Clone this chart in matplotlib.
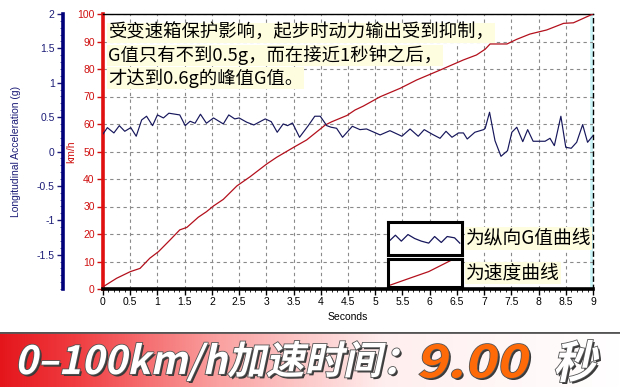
import numpy as np
import matplotlib
matplotlib.use("Agg")
import matplotlib.pyplot as plt
from matplotlib.textpath import TextPath
from matplotlib.patches import PathPatch
from matplotlib.font_manager import FontProperties
from matplotlib.transforms import Affine2D
import matplotlib.patheffects as pe

# speed curve (km/h vs seconds)
speed_t = [0, 0.25, 0.5, 0.68, 0.86, 1.02, 1.23, 1.41, 1.54, 1.75, 1.90, 2.03, 2.21, 2.46,
           2.70, 3.01, 3.19, 3.50, 3.74, 4.08, 4.20, 4.48, 4.63, 4.78, 5.09, 5.46, 5.76,
           6.19, 6.62, 6.86, 7.02, 7.11, 7.42, 7.60, 7.84, 8.15, 8.46, 8.64, 8.82, 9.0]
speed_v = [0.8, 3.9, 6.3, 7.5, 11.2, 13.6, 17.8, 21.5, 22.4, 26.1, 28.1, 30.2, 32.6, 37.5,
           40.8, 45.5, 47.9, 51.5, 54.2, 59.6, 60.8, 63.1, 65.1, 66.5, 69.9, 73.0, 76.0,
           79.6, 83.3, 85.1, 87.2, 89.1, 89.1, 90.8, 92.7, 94.2, 96.6, 96.8, 98.4, 100]

# longitudinal acceleration (g vs seconds)
g_t = [0.0, 0.08, 0.20, 0.30, 0.40, 0.51, 0.61, 0.71, 0.80, 0.91, 1.00, 1.11, 1.21, 1.41,
       1.51, 1.60, 1.69, 1.79, 1.90, 2.03, 2.21, 2.31, 2.42, 2.50, 2.64, 2.77, 2.98, 3.09,
       3.20, 3.31, 3.39, 3.48, 3.61, 3.77, 3.89, 3.99, 4.11, 4.19, 4.29, 4.40, 4.58, 4.72,
       4.84, 5.09, 5.27, 5.49, 5.64, 5.79, 5.90, 6.05, 6.19, 6.30, 6.41, 6.53, 6.62, 6.69,
       6.83, 6.99, 7.02, 7.10, 7.20, 7.31, 7.43, 7.51, 7.60, 7.71, 7.80, 7.90, 8.12, 8.21,
       8.29, 8.41, 8.50, 8.60, 8.70, 8.81, 8.90, 9.00]
g_val = [0.255, 0.347, 0.270, 0.376, 0.294, 0.347, 0.222, 0.459, 0.513, 0.376, 0.532, 0.488,
         0.557, 0.532, 0.376, 0.440, 0.411, 0.542, 0.411, 0.488, 0.401, 0.532, 0.474, 0.488,
         0.426, 0.386, 0.474, 0.434, 0.280, 0.401, 0.376, 0.415, 0.207, 0.376, 0.513, 0.513,
         0.376, 0.353, 0.338, 0.207, 0.367, 0.318, 0.328, 0.241, 0.303, 0.222, 0.328, 0.222,
         0.318, 0.250, 0.192, 0.294, 0.207, 0.270, 0.270, 0.182, 0.280, 0.318, 0.338, 0.571,
         0.157, -0.070, 0.012, 0.280, 0.353, 0.143, 0.318, 0.149, 0.149, 0.192, 0.085, 0.513,
         0.061, 0.047, 0.134, 0.391, 0.134, 0.230]

x_ticks = [0, 0.5, 1, 1.5, 2, 2.5, 3, 3.5, 4, 4.5, 5, 5.5, 6, 6.5, 7, 7.5, 8, 8.5, 9]
x_tick_labels = ["0", "0.5", "1", "1.5", "2", "2.5", "3", "3.5", "4", "4.5", "5", "5.5",
                 "6", "6.5", "7", "7.5", "8", "8.5", "9"]
kmh_ticks = [0, 10, 20, 30, 40, 50, 60, 70, 80, 90, 100]
g_ticks = [-1.5, -1, -0.5, 0, 0.5, 1, 1.5, 2]
g_tick_labels = ["-1.5", "-1", "-0.5", "0", "0.5", "1", "1.5", "2"]

# little samples shown inside the legend boxes
leg_g_x = [0.03, 0.10, 0.18, 0.27, 0.36, 0.45, 0.55, 0.63, 0.72, 0.80, 0.90, 0.97]
leg_g_y = [0.45, 0.60, 0.42, 0.62, 0.50, 0.42, 0.36, 0.56, 0.38, 0.56, 0.52, 0.36]
leg_v_x = [0.0, 0.30, 0.55, 0.85, 1.0]
leg_v_y = [0.04, 0.32, 0.55, 0.95, 1.0]

note_lines = ["受变速箱保护影响，起步时动力输出受到抑制，",
              "G值只有不到0.5g，而在接近1秒钟之后，",
              "才达到0.6g的峰值G值。"]
legend_labels = ["为纵向G值曲线", "为速度曲线"]
banner_parts = ["0–100km/h加速时间：", "9.00", "秒"]

W, H = 620, 387
cjk = ["Noto Sans CJK SC", "DejaVu Sans"]
plt.rcParams["font.family"] = ["Liberation Sans", "DejaVu Sans"]

fig = plt.figure(figsize=(6.2, 3.87), dpi=100)
ax = fig.add_axes([103 / W, 1 - 289 / H, 490 / W, 275 / H])
ax.set_xlim(0, 9)
ax.set_ylim(0, 100)
ax.axvline(9, color="#c8f4f8", lw=4, zorder=0.5)
ax.plot(speed_t, speed_v, color="#b3101c", lw=0.9, zorder=3)
ax.set_xticks(x_ticks)
ax.set_xticklabels(x_tick_labels)
ax.set_xticks(np.arange(0, 9.01, 0.1), minor=True)
ax.set_yticks(kmh_ticks)
ax.grid(True, which="major", ls=(0, (3, 3)), color="#8a8a8a", lw=0.8)
ax.tick_params(axis="x", which="major", length=4, width=1, labelsize=7.5, pad=2)
ax.tick_params(axis="x", which="minor", length=2, width=0.6)
ax.tick_params(axis="y", colors="#d01010", length=4, width=1, labelsize=7.5, pad=2)
ax.spines["left"].set_color("#e01010")
ax.spines["left"].set_linewidth(2.6)
ax.spines["bottom"].set_linewidth(2.6)
ax.spines["top"].set_linewidth(1)
ax.spines["right"].set_linestyle((0, (3, 3)))
ax.spines["right"].set_linewidth(1)
ax.set_xlabel("Seconds", fontsize=7.5, labelpad=3)
ax.set_ylabel("km/h", fontsize=7.5, color="#d01010", labelpad=1)

ax2 = ax.twinx()
ax2.set_ylim(-2, 2)
ax2.plot(g_t, g_val, color="#16165c", lw=0.85, zorder=3)
ax2.yaxis.set_ticks_position("left")
ax2.yaxis.set_label_position("left")
for s in ["right", "top", "bottom"]:
    ax2.spines[s].set_visible(False)
ax2.spines["left"].set_visible(True)
ax2.spines["left"].set_position(("axes", -40 / 490))
ax2.spines["left"].set_color("#00007a")
ax2.spines["left"].set_linewidth(2.6)
ax2.set_yticks(g_ticks)
ax2.set_yticklabels(g_tick_labels)
ax2.set_yticks(np.arange(-2, 2.01, 0.1), minor=True)
ax2.tick_params(axis="y", which="major", colors="#1c1c78", length=4, width=1,
                labelsize=7.5, pad=2)
ax2.tick_params(axis="y", which="minor", colors="#1c1c78", length=2, width=0.5)
ax2.set_ylabel("Longitudinal Acceleration (g)", fontsize=7.5, color="#1c1c78", labelpad=11)

# note text
for i, line in enumerate(note_lines):
    fig.text(108 / W, 1 - (33 + i * 22.5) / H, line, fontsize=13.2, family=cjk,
             va="center", ha="left", color="black",
             bbox=dict(facecolor="#fffde0", edgecolor="none", pad=0.6))

# legend boxes
box_px = [(388, 222, 462, 255), (388, 259, 462, 287)]
leg_data = [(leg_g_x, leg_g_y, "#16165c"), (leg_v_x, leg_v_y, "#b3101c")]
for (x0, y0, x1, y1), (lx, ly, c), lab in zip(box_px, leg_data, legend_labels):
    lax = fig.add_axes([x0 / W, 1 - y1 / H, (x1 - x0) / W, (y1 - y0) / H])
    lax.set_xlim(0, 1)
    lax.set_ylim(0, 1)
    lax.plot(lx, ly, color=c, lw=0.9)
    lax.set_xticks([])
    lax.set_yticks([])
    for s in lax.spines.values():
        s.set_linewidth(2.2)
    fig.text(466 / W, 1 - (y0 + y1) / 2 / H, lab, fontsize=13.5, family=cjk,
             va="center", ha="left",
             bbox=dict(facecolor="#fffde0", edgecolor="none", pad=0.6))

# bottom banner with red -> white gradient
bax = fig.add_axes([0, 0, 1, 55 / H])
stops = [0, 0.12, 0.35, 0.62, 1.0]
reds = [228, 240, 250, 255, 255]
greens = [22, 60, 160, 238, 255]
blues = [28, 64, 160, 238, 255]
xs = np.linspace(0, 1, 400)
grad = np.stack([np.interp(xs, stops, reds), np.interp(xs, stops, greens),
                 np.interp(xs, stops, blues)], axis=-1)[None, :, :] / 255
bax.imshow(grad, aspect="auto", extent=[0, 1, 0, 1])
bax.axhline(1, color="#555555", lw=2)
bax.set_axis_off()

fp = FontProperties(family="Noto Sans CJK SC", weight="bold")
k = np.tan(np.radians(12))


def banner_text(s, x0, x1, ytop, ybot, color):
    tp = TextPath((0, 0), s, size=40, prop=fp)
    ext = tp.get_extents()
    hh = ybot - ytop
    sy = hh / ext.height
    sx = ((x1 - x0) - k * hh) / ext.width
    for dx, dy, c, z in [(2, -2, "#3a3a3a", 5), (0, 0, color, 6)]:
        tr = (Affine2D().translate(-ext.x0, -ext.y0).scale(sx, sy)
              .skew_deg(12, 0).translate(x0 + dx, H - ybot + dy))
        p = PathPatch(tp, transform=tr, facecolor=c, edgecolor="none", zorder=z)
        if z == 6:
            p.set_path_effects([pe.withStroke(linewidth=1.2, foreground="#555555")])
        fig.add_artist(p)


banner_text(banner_parts[0], 15, 402, 341, 381, "white")
banner_text(banner_parts[1], 418, 532, 344, 378, "#ff6a08")
banner_text(banner_parts[2], 553, 603, 340, 382, "white")

fig.savefig("out.png", dpi=100)
